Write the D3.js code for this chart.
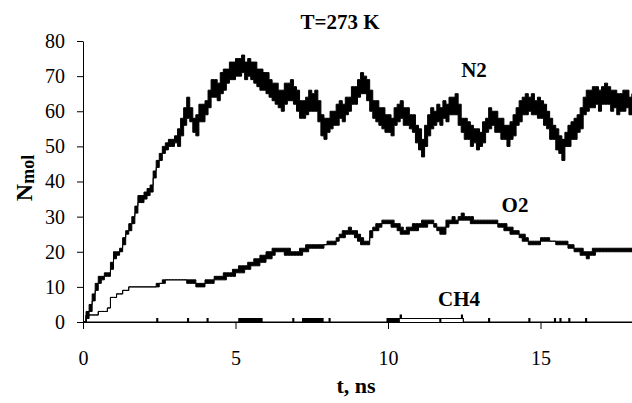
<!DOCTYPE html>
<html>
<head>
<meta charset="utf-8">
<script src="https://cdnjs.cloudflare.com/ajax/libs/d3/7.8.5/d3.min.js"></script>
<style>
  body { margin: 0; background: #fff; }
  svg { display: block; }
  text { font-family: "Liberation Serif", "DejaVu Serif", serif; fill: #000; }
  .axis path, .axis line { stroke: #000; stroke-width: 1; }
  .axis text { font-size: 20px; }
</style>
</head>
<body>
<div id="chart"></div>
<script>
// sample times (ns) shared by the N2 and O2 traces
var timeGrid = [
  0, 0.1, 0.2, 0.3, 0.4, 0.5, 0.6, 0.7, 0.8, 0.9,
  1, 1.1, 1.2, 1.3, 1.4, 1.5, 1.6, 1.7, 1.8, 1.9,
  2, 2.1, 2.2, 2.3, 2.4, 2.5, 2.6, 2.7, 2.8, 2.9,
  3, 3.1, 3.2, 3.3, 3.4, 3.5, 3.6, 3.7, 3.8, 3.9,
  4, 4.1, 4.2, 4.3, 4.4, 4.5, 4.6, 4.7, 4.8, 4.9,
  5, 5.1, 5.2, 5.3, 5.4, 5.5, 5.6, 5.7, 5.8, 5.9,
  6, 6.1, 6.2, 6.3, 6.4, 6.5, 6.6, 6.7, 6.8, 6.9,
  7, 7.1, 7.2, 7.3, 7.4, 7.5, 7.6, 7.7, 7.8, 7.9,
  8, 8.1, 8.2, 8.3, 8.4, 8.5, 8.6, 8.7, 8.8, 8.9,
  9, 9.1, 9.2, 9.3, 9.4, 9.5, 9.6, 9.7, 9.8, 9.9,
  10, 10.1, 10.2, 10.3, 10.4, 10.5, 10.6, 10.7, 10.8, 10.9,
  11, 11.1, 11.2, 11.3, 11.4, 11.5, 11.6, 11.7, 11.8, 11.9,
  12, 12.1, 12.2, 12.3, 12.4, 12.5, 12.6, 12.7, 12.8, 12.9,
  13, 13.1, 13.2, 13.3, 13.4, 13.5, 13.6, 13.7, 13.8, 13.9,
  14, 14.1, 14.2, 14.3, 14.4, 14.5, 14.6, 14.7, 14.8, 14.9,
  15, 15.1, 15.2, 15.3, 15.4, 15.5, 15.6, 15.7, 15.8, 15.9,
  16, 16.1, 16.2, 16.3, 16.4, 16.5, 16.6, 16.7, 16.8, 16.9,
  17, 17.1, 17.2, 17.3, 17.4, 17.5, 17.6, 17.7, 17.8, 17.9,
  18
];

// N2 count: lowest and highest value reached in each 0.1 ns slot (the noisy band)
var n2Low = [
  0, 1, 3, 6, 9, 11, 12, 13, 13, 15,
  18, 19, 20, 22, 25, 26, 28, 31, 34, 34,
  35, 36, 37, 41, 44, 46, 48, 49, 50, 50,
  51, 50, 53, 56, 58, 57, 54, 53, 57, 57,
  59, 61, 64, 64, 63, 65, 66, 68, 69, 69,
  70, 70, 71, 69, 70, 69, 68, 67, 66, 66,
  65, 64, 63, 62, 61, 60, 62, 63, 63, 62,
  60, 58, 58, 59, 60, 60, 60, 57, 53, 52,
  54, 55, 56, 56, 58, 57, 59, 60, 62, 62,
  64, 65, 65, 63, 60, 58, 57, 56, 55, 54,
  54, 53, 56, 57, 58, 56, 56, 55, 54, 51,
  49, 47, 50, 53, 55, 56, 57, 56, 58, 57,
  59, 59, 59, 56, 54, 52, 52, 50, 51, 49,
  50, 51, 54, 55, 56, 54, 54, 52, 52, 50,
  52, 53, 56, 57, 59, 59, 60, 59, 59, 58,
  58, 56, 55, 52, 52, 49, 48, 46, 50, 50,
  52, 52, 54, 55, 59, 60, 61, 61, 62, 60,
  62, 62, 62, 60, 61, 59, 60, 60, 61, 59,
  61
];
var n2High = [
  0, 3, 5, 8, 11, 13, 13, 14, 14, 17,
  20, 20, 21, 24, 26, 28, 30, 33, 36, 36,
  37, 38, 39, 43, 46, 48, 50, 51, 52, 52,
  53, 55, 58, 61, 64, 61, 58, 59, 62, 62,
  63, 66, 69, 69, 68, 71, 72, 72, 74, 74,
  75, 75, 76, 74, 75, 74, 74, 72, 72, 71,
  71, 69, 68, 68, 66, 66, 68, 68, 69, 67,
  66, 63, 63, 64, 66, 65, 66, 63, 59, 58,
  58, 60, 60, 62, 63, 62, 64, 64, 67, 67,
  69, 71, 70, 69, 66, 63, 63, 61, 61, 59,
  59, 58, 61, 62, 63, 61, 61, 59, 59, 56,
  55, 52, 56, 59, 61, 60, 62, 61, 63, 62,
  64, 64, 65, 62, 58, 58, 57, 56, 55, 55,
  54, 57, 58, 61, 60, 60, 58, 58, 56, 56,
  57, 59, 61, 63, 64, 65, 64, 65, 63, 64,
  63, 62, 60, 58, 56, 55, 53, 52, 54, 56,
  57, 58, 59, 61, 64, 66, 66, 67, 67, 66,
  67, 68, 67, 66, 66, 65, 65, 66, 66, 64,
  65
];

// O2 count, same layout
var o2Low = [
  0, 2, 2, 2, 2, 3, 3, 3, 4, 7,
  7, 8, 8, 9, 9, 10, 10, 10, 10, 10,
  10, 10, 10, 10, 10, 11, 11, 12, 12, 12,
  12, 12, 12, 12, 11, 11, 11, 10, 10, 10,
  11, 11, 11, 12, 12, 12, 12, 13, 13, 13,
  14, 14, 14, 15, 15, 16, 16, 16, 17, 17,
  18, 18, 19, 20, 20, 20, 19, 19, 19, 19,
  19, 19, 20, 20, 21, 21, 21, 21, 21, 22,
  22, 22, 22, 23, 24, 24, 25, 25, 25, 24,
  23, 22, 22, 22, 24, 26, 26, 27, 28, 28,
  28, 27, 27, 26, 25, 25, 25, 26, 26, 26,
  27, 27, 27, 28, 28, 27, 26, 25, 25, 27,
  28, 28, 28, 29, 29, 29, 29, 28, 28, 28,
  28, 28, 28, 28, 28, 28, 27, 27, 26, 26,
  25, 25, 25, 24, 23, 23, 22, 22, 22, 22,
  23, 23, 23, 23, 23, 22, 22, 22, 22, 21,
  21, 20, 20, 19, 19, 18, 19, 19, 20, 20,
  20, 20, 20, 20, 20, 20, 20, 20, 20, 20,
  20
];
var o2High = [
  0, 2, 2, 2, 2, 3, 3, 3, 4, 7,
  7, 8, 8, 9, 9, 10, 10, 10, 10, 10,
  10, 10, 10, 10, 11, 11, 12, 12, 12, 12,
  12, 12, 12, 12, 12, 12, 12, 11, 11, 11,
  12, 12, 12, 13, 13, 13, 14, 14, 14, 15,
  15, 16, 16, 16, 17, 17, 18, 18, 19, 19,
  20, 20, 21, 21, 21, 21, 21, 21, 20, 20,
  20, 21, 21, 22, 22, 22, 22, 22, 22, 22,
  23, 23, 23, 24, 25, 26, 26, 27, 26, 26,
  25, 24, 23, 23, 26, 27, 28, 28, 29, 29,
  29, 29, 28, 28, 27, 26, 27, 27, 28, 28,
  28, 29, 29, 29, 29, 28, 27, 27, 27, 29,
  29, 30, 29, 30, 31, 30, 30, 30, 29, 29,
  29, 29, 29, 29, 29, 29, 28, 28, 28, 27,
  27, 26, 26, 25, 25, 24, 23, 23, 23, 23,
  24, 24, 24, 23, 23, 23, 23, 23, 23, 22,
  22, 21, 21, 21, 20, 20, 20, 21, 21, 21,
  21, 21, 21, 21, 21, 21, 21, 21, 21, 21,
  21
];

// CH4: [time, count] change points, mostly zero with short bursts
var ch4Points = [
  [0, 0], [2.42, 1], [2.45, 0], [3.43, 1], [3.46, 0], [4.07, 1], [4.1, 0],
  [5.11, 1], [5.15, 0], [5.19, 1], [5.23, 0], [5.27, 1], [5.31, 0], [5.35, 1], [5.39, 0],
  [5.43, 1], [5.47, 0], [5.51, 1], [5.55, 0], [5.59, 1], [5.63, 0], [5.67, 1], [5.71, 0],
  [5.75, 1], [5.79, 0], [5.83, 1], [5.87, 0], [5.9, 0],
  [6.88, 1], [6.91, 0], [7.2, 1], [7.24, 0], [7.28, 1], [7.32, 0], [7.36, 1], [7.4, 0],
  [7.44, 1], [7.48, 0], [7.52, 1], [7.56, 0], [7.6, 1], [7.64, 0], [7.68, 1], [7.72, 0],
  [7.76, 1], [7.8, 0], [7.84, 1], [7.87, 0], [8.07, 1], [8.1, 0],
  [9.97, 1], [10.01, 0], [10.05, 1], [10.09, 0], [10.13, 1], [10.17, 0], [10.21, 1],
  [10.25, 0], [10.29, 1], [10.33, 0], [10.37, 1], [10.4, 2], [10.44, 1],
  [11.7, 0], [11.73, 1], [12.41, 2], [12.44, 1], [12.47, 0],
  [13.3, 1], [13.33, 0], [14.62, 1], [14.65, 0], [15.46, 1], [15.49, 0],
  [15.64, 1], [15.67, 0], [15.93, 1], [15.96, 0], [16.48, 1], [16.51, 0], [18, 0]
];

var xTicks = [0, 5, 10, 15];
var yTicks = [0, 10, 20, 30, 40, 50, 60, 70, 80];

var W = 632, H = 403;
var margin = { top: 41, right: 0, bottom: 81, left: 83 };

var svg = d3.select("#chart").append("svg")
    .attr("width", W)
    .attr("height", H);

var x = d3.scaleLinear()
    .domain([0, 18])
    .range([margin.left, W - margin.right]);

var y = d3.scaleLinear()
    .domain([0, 80])
    .range([H - margin.bottom, margin.top]);

svg.append("defs").append("clipPath")
    .attr("id", "plot")
  .append("rect")
    .attr("x", margin.left)
    .attr("y", 0)
    .attr("width", W - margin.left)
    .attr("height", H - margin.bottom + 1);

// axes
var gx = svg.append("g")
    .attr("class", "axis")
    .attr("transform", "translate(0," + (H - margin.bottom) + ")")
    .call(d3.axisBottom(x).tickValues(xTicks).tickSize(7).tickSizeOuter(0).tickPadding(22));

var gy = svg.append("g")
    .attr("class", "axis")
    .attr("transform", "translate(" + margin.left + ",0)")
    .call(d3.axisLeft(y).tickValues(yTicks).tickSize(6).tickSizeOuter(0).tickPadding(12));

// drop d3's default sans-serif so the css serif font applies
svg.selectAll(".axis").attr("font-family", null).attr("font-size", null);
svg.selectAll(".axis .domain").attr("fill", "none");

// noisy traces drawn as a band between low and high counts
var band = d3.area()
    .curve(d3.curveStepAfter)
    .x(function (d) { return x(d.t); })
    .y0(function (d) { return y(d.lo); })
    .y1(function (d) { return y(d.hi); });

var bands = [
  timeGrid.map(function (t, i) { return { t: t, lo: n2Low[i], hi: n2High[i] }; }),
  timeGrid.map(function (t, i) { return { t: t, lo: o2Low[i], hi: o2High[i] }; })
];

var plot = svg.append("g").attr("clip-path", "url(#plot)");

plot.selectAll(".band")
  .data(bands)
  .enter()
  .append("path")
    .attr("class", "band")
    .attr("d", band)
    .attr("fill", "#000")
    .attr("stroke", "#000")
    .attr("stroke-width", 1);

var line = d3.line()
    .curve(d3.curveStepAfter)
    .x(function (d) { return x(d[0]); })
    .y(function (d) { return y(d[1]); });

plot.append("path")
    .attr("d", line(ch4Points))
    .attr("fill", "none")
    .attr("stroke", "#000")
    .attr("stroke-width", 1.2);

// labels
var labels = [
  { text: "T=273 K", x: 340, y: 29, size: 21 },
  { text: "N2", x: 474, y: 77, size: 21 },
  { text: "O2", x: 515, y: 212, size: 21 },
  { text: "CH4", x: 459, y: 306, size: 21 },
  { text: "t, ns", x: 356, y: 393, size: 22 }
];

svg.selectAll(".lbl")
  .data(labels)
  .enter()
  .append("text")
    .attr("class", "lbl")
    .attr("x", function (d) { return d.x; })
    .attr("y", function (d) { return d.y; })
    .attr("text-anchor", "middle")
    .attr("font-weight", "bold")
    .attr("font-size", function (d) { return d.size + "px"; })
    .text(function (d) { return d.text; });

var yl = svg.append("text")
    .attr("transform", "translate(32,178) rotate(-90)")
    .attr("text-anchor", "middle")
    .attr("font-weight", "bold");
yl.append("tspan").attr("font-size", "24px").text("N");
yl.append("tspan").attr("font-size", "18px").attr("dy", 2).text("mol");
</script>
</body>
</html>
